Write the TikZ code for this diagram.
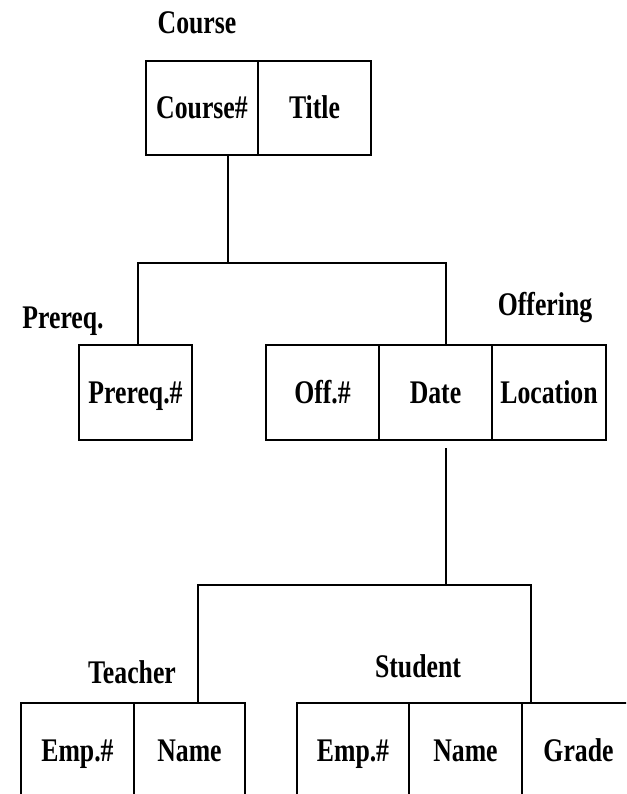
\documentclass[tikz,border=0pt]{standalone}
\usepackage{fontspec}
\setmainfont{Liberation Serif}[FakeStretch=0.78]
\begin{document}
\begin{tikzpicture}[x=1pt,y=-1pt,
  txt/.style={font=\fontsize{33}{33}\selectfont\bfseries, inner sep=0pt, text height=21.8pt, text depth=0pt},
  cell/.style={txt, draw, line width=1.8pt, minimum height=94pt},
  conn/.style={line width=1.5pt}]
\useasboundingbox (0,0) rectangle (626,794);
\clip (0,0) rectangle (626,794);
% labels
\node[txt] (lcourse) at (197,23) {Course};
\node[txt] (lprereq) at (63,318) {Prereq.};
\node[txt] (loffer) at (545,305) {Offering};
\node[txt] (lteach) at (132,673) {Teacher};
\node[txt] (lstud) at (418,667) {Student};
% Course
\node[cell, minimum width=112pt] (cnum) at (202,108) {Course\#};
\node[cell, minimum width=113pt] (ctitle) at (314.5,108) {Title};
% Prereq
\node[cell, minimum width=113pt, minimum height=95pt] (pre) at (135.5,392.5) {Prereq.\#};
% Offering
\node[cell, minimum width=113pt, minimum height=95pt] (off) at (322.5,392.5) {Off.\#};
\node[cell, minimum width=113pt, minimum height=95pt] (date) at (435.5,392.5) {Date};
\node[cell, minimum width=114pt, minimum height=95pt] (loc) at (549,392.5) {Location};
% Teacher
\node[cell, minimum width=113pt, minimum height=95pt] (temp) at (77.5,750.5) {Emp.\#};
\node[cell, minimum width=111pt, minimum height=95pt] (tname) at (189.5,750.5) {Name};
% Student
\node[cell, minimum width=112pt, minimum height=95pt] (semp) at (353,750.5) {Emp.\#};
\node[cell, minimum width=113pt, minimum height=95pt] (sname) at (465.5,750.5) {Name};
\node[cell, minimum width=113pt, minimum height=95pt] (sgrade) at (578.5,750.5) {Grade};
% connectors
\coordinate (a1) at (228,263);
\coordinate (b1) at (138,263);
\coordinate (b2) at (446,263);
\coordinate (d0) at (446,448);
\coordinate (d1) at (446,585);
\coordinate (c1) at (198,585);
\coordinate (c2) at (531,585);
\draw[conn] (cnum.south -| a1) -- (a1);
\draw[conn] (b1 |- pre.north) -- (b1) -- (b2) -- (b2 |- date.north);
\draw[conn] (d0) -- (d1);
\draw[conn] (c1 |- tname.north) -- (c1) -- (c2) -- (c2 |- sname.north);
\end{tikzpicture}
\end{document}
